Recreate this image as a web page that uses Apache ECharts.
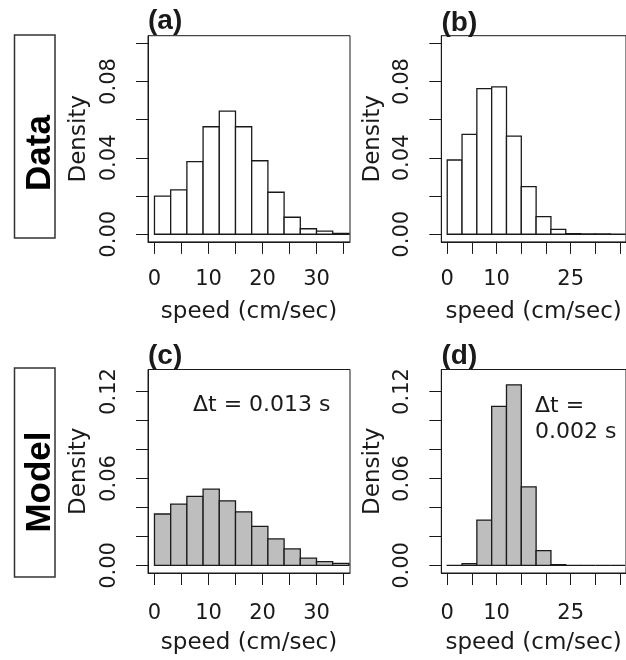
<!DOCTYPE html>
<html>
<head>
<meta charset="utf-8">
<script src="https://cdn.jsdelivr.net/npm/echarts@6/dist/echarts.min.js"></script>
<style>
  html, body { margin: 0; padding: 0; background: #fff; }
  #chart { width: 626px; height: 660px; }
</style>
</head>
<body>
<div id="chart"></div>
<script>
// Histogram bins: width 3 cm/sec, starting at these left edges
const BIN_WIDTH = 3;
const binStarts = [0, 3, 6, 9, 12, 15, 18, 21, 24, 27, 30, 33];

// Observed speed densities
const dataA = [0.0200, 0.0232, 0.0380, 0.0563, 0.0645, 0.0563, 0.0385, 0.0220, 0.0089, 0.0029, 0.0016, 0.0005];
const dataB = [0.0389, 0.0523, 0.0763, 0.0772, 0.0514, 0.0249, 0.0092, 0.0026, 0.0003, 0.0002, 0.0002, 0.0001];
// Simulated speed densities
const modelC = [0.0355, 0.0423, 0.0476, 0.0526, 0.0446, 0.0370, 0.0270, 0.0183, 0.0114, 0.0050, 0.0027, 0.0015];
const modelD = [0.0001, 0.0012, 0.0313, 0.1097, 0.1246, 0.0542, 0.0103, 0.0005, 0.0001, 0, 0, 0];

// Axis ticks and labels
const xTicks = [0, 5, 10, 15, 20, 25, 30, 35];
const xLabelsLeft = [0, 10, 20, 30];
const xLabelsRight = [0, 10, 25];
const yTicksTop = [0, 0.02, 0.04, 0.06, 0.08, 0.10];
const yLabelsTop = [0, 0.04, 0.08];
const yTicksBottom = [0, 0.02, 0.04, 0.06, 0.08, 0.10, 0.12];
const yLabelsBottom = [0, 0.06, 0.12];

const panelTitles = ['(a)', '(b)', '(c)', '(d)'];
const rowLabels = ['Data', 'Model'];
const dtLeft = 'Δt = 0.013 s';
const dtRight = 'Δt =\n0.002 s';

const FONT = 'DejaVu Sans';
const BOLD_FONT = 'Liberation Sans';
const INK = '#1a1a1a';

const grids = [
  { left: 148, top: 35.7, width: 202, height: 206.2 },
  { left: 441.3, top: 35.7, width: 188, height: 206.2 },
  { left: 148, top: 369.5, width: 202, height: 203.5 },
  { left: 441.3, top: 369.5, width: 188, height: 203.5 }
];

function xAxisFor(i, labels, labelMargin, nameGap) {
  return {
    type: 'value', gridIndex: i, min: -1.2, max: 36.2,
    axisLine: { show: true, onZero: false, lineStyle: { color: INK, width: 1 } },
    axisTick: { show: true, customValues: xTicks, length: 12, lineStyle: { color: INK, width: 1 } },
    axisLabel: {
      customValues: labels, margin: labelMargin,
      fontFamily: FONT, fontSize: 21, color: INK,
      formatter: v => String(v)
    },
    splitLine: { show: false },
    name: 'speed (cm/sec)', nameLocation: 'middle', nameGap: nameGap,
    nameTextStyle: { fontFamily: FONT, fontSize: 23, color: INK }
  };
}

function yAxisFor(i, min, max, ticks, labels) {
  return {
    type: 'value', gridIndex: i, min: min, max: max,
    axisLine: { show: true, onZero: false, lineStyle: { color: INK, width: 1 } },
    axisTick: { show: true, customValues: ticks, length: 12, lineStyle: { color: INK, width: 1 } },
    axisLabel: {
      customValues: labels, rotate: 90, margin: 28,
      fontFamily: FONT, fontSize: 21, color: INK,
      formatter: v => v.toFixed(2)
    },
    splitLine: { show: false },
    name: 'Density', nameLocation: 'middle', nameGap: 57,
    nameTextStyle: { fontFamily: FONT, fontSize: 23, color: INK }
  };
}

function histSeries(i, values, fill) {
  return {
    type: 'custom', xAxisIndex: i, yAxisIndex: i,
    data: binStarts.map((s, k) => [s, values[k]]),
    encode: { x: 0, y: 1 },
    clip: true,
    renderItem: function (params, api) {
      const start = api.value(0);
      const dens = api.value(1);
      const tl = api.coord([start, dens]);
      const br = api.coord([start + BIN_WIDTH, 0]);
      return {
        type: 'rect',
        shape: { x: tl[0], y: tl[1], width: br[0] - tl[0], height: br[1] - tl[1] },
        style: { fill: fill, stroke: INK, lineWidth: 1.3 }
      };
    }
  };
}

const titlePos = [[148, 7], [441.5, 9], [148, 342], [441.5, 342]];

const option = {
  backgroundColor: '#fff',
  animation: false,
  title: panelTitles.map((t, i) => ({
    text: t, left: titlePos[i][0], top: titlePos[i][1], padding: 0,
    textStyle: { fontFamily: BOLD_FONT, fontWeight: 'bold', fontSize: 28, color: INK }
  })),
  grid: grids.map(g => Object.assign({ show: true, borderColor: INK, borderWidth: 1, backgroundColor: 'transparent' }, g)),
  xAxis: [
    xAxisFor(0, xLabelsLeft, 27, 59),
    xAxisFor(1, xLabelsRight, 27, 59),
    xAxisFor(2, xLabelsLeft, 30, 59),
    xAxisFor(3, xLabelsRight, 30, 59)
  ],
  yAxis: [
    yAxisFor(0, -0.004, 0.104, yTicksTop, yLabelsTop),
    yAxisFor(1, -0.004, 0.104, yTicksTop, yLabelsTop),
    yAxisFor(2, -0.0052, 0.1352, yTicksBottom, yLabelsBottom),
    yAxisFor(3, -0.0052, 0.1352, yTicksBottom, yLabelsBottom)
  ],
  series: [
    histSeries(0, dataA, '#ffffff'),
    histSeries(1, dataB, '#ffffff'),
    histSeries(2, modelC, '#bebebe'),
    histSeries(3, modelD, '#bebebe')
  ],
  graphic: [
    // Row label frames
    { type: 'rect', shape: { x: 14.5, y: 35, width: 40.5, height: 203 },
      style: { fill: 'none', stroke: '#333', lineWidth: 1.5 } },
    { type: 'rect', shape: { x: 14.5, y: 368, width: 40.5, height: 209 },
      style: { fill: 'none', stroke: '#333', lineWidth: 1.5 } },
    { type: 'text', x: 40, y: 153, rotation: Math.PI / 2,
      style: { text: rowLabels[0], font: 'bold 35px "Liberation Sans"', fill: '#000',
               textAlign: 'center', textVerticalAlign: 'middle' } },
    { type: 'text', x: 40, y: 482, rotation: Math.PI / 2,
      style: { text: rowLabels[1], font: 'bold 35px "Liberation Sans"', fill: '#000',
               textAlign: 'center', textVerticalAlign: 'middle' } },
    // Time-step annotations
    { type: 'text', x: 193, y: 405,
      style: { text: dtLeft, font: '22px "DejaVu Sans"', fill: INK,
               textAlign: 'left', textVerticalAlign: 'middle' } },
    { type: 'text', x: 535, y: 419,
      style: { text: dtRight, font: '22px "DejaVu Sans"', fill: INK, lineHeight: 26,
               textAlign: 'left', textVerticalAlign: 'middle' } }
  ]
};

const chart = echarts.init(document.getElementById('chart'), null, { renderer: 'canvas' });
chart.setOption(option);
</script>
</body>
</html>
